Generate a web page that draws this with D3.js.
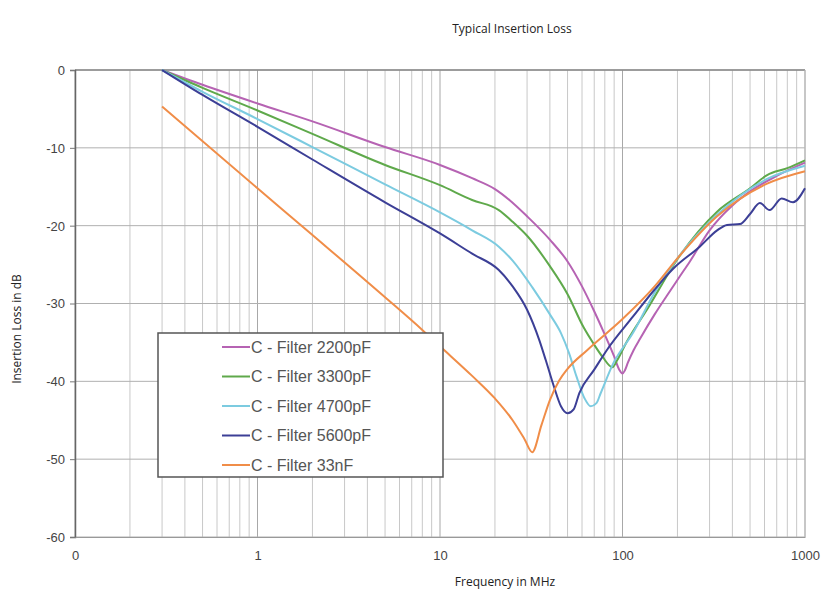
<!DOCTYPE html>
<html>
<head>
<meta charset="utf-8">
<script src="https://cdn.jsdelivr.net/npm/d3@7"></script>
<style>
body { margin: 0; background: #fff; }
text { font-family: "Liberation Sans", Arial, sans-serif; }
.ttl { font-family: "Open Sans", sans-serif; fill: #222; }
</style>
</head>
<body>
<svg width="829" height="601"></svg>
<script>
// ---- data (MHz, dB) ----
var seriesNames = ["C - Filter 2200pF", "C - Filter 3300pF", "C - Filter 4700pF", "C - Filter 5600pF", "C - Filter 33nF"];
var seriesColors = ["#b663b3", "#5fa94b", "#7ccbe0", "#3c3f96", "#f08d48"];

var pf2200 = [[0.3,0],[0.5,-1.9],[1,-4.3],[2,-6.6],[5,-9.9],[10,-12.2],[15,-13.9],[20,-15.3],[24,-16.7],[30,-18.8],[40,-21.8],[50,-24.6],[60,-27.8],[70,-31],[80,-34],[90,-36.8],[96,-38.5],[100,-39],[103,-38.6],[107,-37.6],[115,-36],[125,-34.5],[150,-31.4],[175,-29],[205,-26.6],[234,-24.6],[300,-20.6],[400,-17.4],[500,-15.6],[700,-13.6],[1000,-11.9]];
var pf3300 = [[0.3,0],[0.5,-2.3],[1,-5.2],[2,-8.2],[5,-12.2],[10,-14.8],[15,-16.7],[21,-18],[25,-19.5],[30,-21.3],[40,-25.2],[50,-28.8],[61,-33],[70,-35.3],[78,-36.9],[88,-38.2],[94,-37.2],[105,-35],[136,-30.8],[200,-24.3],[330,-18.2],[500,-15.2],[620,-13.5],[800,-12.6],[1000,-11.6]];
var pf4700 = [[0.3,0],[0.5,-2.8],[1,-6.3],[2,-9.9],[5,-14.7],[10,-18.3],[15,-20.6],[21,-22.7],[25,-24.5],[32,-27.9],[40,-31.4],[46,-33.8],[51,-36.4],[56,-39.4],[62,-42.2],[67,-43.2],[72,-42.8],[76,-41.5],[89,-37.7],[114,-33.8],[150,-28.6],[200,-24.2],[330,-18.6],[620,-14],[1000,-12.3]];
var pf5600 = [[0.3,0],[0.5,-3.2],[1,-7.3],[2,-11.5],[5,-17],[10,-21],[15,-23.6],[21,-25.7],[25,-27.8],[30,-30.8],[35,-34.7],[38,-37.3],[42,-40.6],[46,-43.2],[50,-44.1],[54,-43.6],[58,-41.5],[70,-38.5],[82,-36],[114,-31.7],[150,-28.2],[190,-25.5],[265,-22.7],[330,-20.6],[374,-19.9],[440,-19.8],[500,-18.5],[566,-17.1],[640,-18],[745,-16.5],[860,-17],[1000,-15.2]];
var nf33 = [[0.3,-4.7],[1,-15.2],[2,-21.2],[5,-29.2],[8,-33.4],[10,-35.5],[15,-39.3],[20,-42.2],[25,-45],[29,-47.4],[32,-49.1],[36,-45.6],[40,-42.4],[45,-39.9],[50,-38.4],[64,-36],[100,-32],[150,-27.8],[200,-24.2],[330,-18.8],[620,-14.6],[1000,-13]];
var seriesData = [pf2200, pf3300, pf4700, pf5600, nf33];

var xTickValues = [0.1, 1, 10, 100, 1000];
var xTickLabels = ["0", "1", "10", "100", "1000"];
var yTickValues = [0, -10, -20, -30, -40, -50, -60];

var svg = d3.select("svg");

var x = d3.scaleLog().domain([0.1, 1000]).range([75, 805]);
var y = d3.scaleLinear().domain([-60, 0]).range([537, 70]);

var g = svg.append("g");

// minor vertical grid
g.selectAll("line.minor")
    .data(x.ticks().filter(function(d) { return xTickValues.indexOf(d) < 0; }))
    .enter().append("line")
    .attr("class", "minor")
    .attr("x1", function(d) { return x(d); }).attr("x2", function(d) { return x(d); })
    .attr("y1", y(0)).attr("y2", y(-60))
    .attr("stroke", "#c8c8c8").attr("stroke-width", 1);

// major vertical grid
g.selectAll("line.major")
    .data(xTickValues)
    .enter().append("line")
    .attr("x1", function(d) { return x(d); }).attr("x2", function(d) { return x(d); })
    .attr("y1", y(0)).attr("y2", y(-60))
    .attr("stroke", "#a8a8a8").attr("stroke-width", 1);

// horizontal grid
g.selectAll("line.hgrid")
    .data(yTickValues)
    .enter().append("line")
    .attr("x1", x(0.1)).attr("x2", x(1000))
    .attr("y1", function(d) { return y(d); }).attr("y2", function(d) { return y(d); })
    .attr("stroke", "#b0b0b0").attr("stroke-width", 1);

// frame
g.append("line").attr("x1", x(0.1)).attr("x2", x(1000)).attr("y1", y(0)).attr("y2", y(0))
    .attr("stroke", "#888").attr("stroke-width", 1.5);
g.append("line").attr("x1", x(1000)).attr("x2", x(1000)).attr("y1", y(0)).attr("y2", y(-60))
    .attr("stroke", "#bbb").attr("stroke-width", 1);

// y axis
var yAxis = d3.axisLeft(y).tickValues(yTickValues).tickSize(5).tickPadding(5)
    .tickFormat(function(d) { return String(d); });
var ya = svg.append("g").attr("transform", "translate(" + x(0.1) + ",0)").call(yAxis);
ya.select(".domain").attr("stroke", "#666").attr("stroke-width", 1.5);
ya.selectAll(".tick line").attr("stroke", "#777");
ya.selectAll("text").attr("font-size", 13).attr("fill", "#444").attr("dy", "0.34em");

// x axis labels
var xAxis = d3.axisBottom(x).tickValues(xTickValues).tickSize(0).tickPadding(14)
    .tickFormat(function(d, i) { return xTickLabels[i]; });
var xa = svg.append("g").attr("transform", "translate(0," + y(-60) + ")").call(xAxis);
xa.select(".domain").attr("stroke", "#999").attr("stroke-width", 1);
xa.selectAll("text").attr("font-size", 13).attr("fill", "#444");

// curves
var line = d3.line()
    .x(function(d) { return x(d[0]); })
    .y(function(d) { return y(d[1]); })
    .curve(d3.curveMonotoneX);

g.selectAll("path.series")
    .data(seriesData)
    .enter().append("path")
    .attr("class", "series")
    .attr("d", line)
    .attr("fill", "none")
    .attr("stroke", function(d, i) { return seriesColors[i]; })
    .attr("stroke-width", 2);

// legend
var lg = svg.append("g");
lg.append("rect").attr("x", 158).attr("y", 333).attr("width", 285).attr("height", 144)
    .attr("fill", "#fff").attr("stroke", "#555").attr("stroke-width", 1.5);
var items = lg.selectAll("g.item").data(seriesNames).enter().append("g")
    .attr("transform", function(d, i) { return "translate(0," + (347 + i * 29.5) + ")"; });
items.append("line").attr("x1", 222).attr("x2", 250).attr("y1", 0).attr("y2", 0)
    .attr("stroke", function(d, i) { return seriesColors[i]; }).attr("stroke-width", 2);
items.append("text").attr("x", 251).attr("y", 0).attr("dy", "0.36em")
    .attr("font-size", 16).attr("fill", "#555")
    .text(function(d) { return d; });

// titles
svg.append("text").attr("class", "ttl").attr("x", 512).attr("y", 33)
    .attr("text-anchor", "middle").attr("font-size", 12).text("Typical Insertion Loss");
svg.append("text").attr("class", "ttl").attr("x", 505).attr("y", 586)
    .attr("text-anchor", "middle").attr("font-size", 12).text("Frequency in MHz");
svg.append("text").attr("class", "ttl")
    .attr("transform", "translate(21,329) rotate(-90)")
    .attr("text-anchor", "middle").attr("font-size", 12).text("Insertion Loss in dB");
</script>
</body>
</html>
